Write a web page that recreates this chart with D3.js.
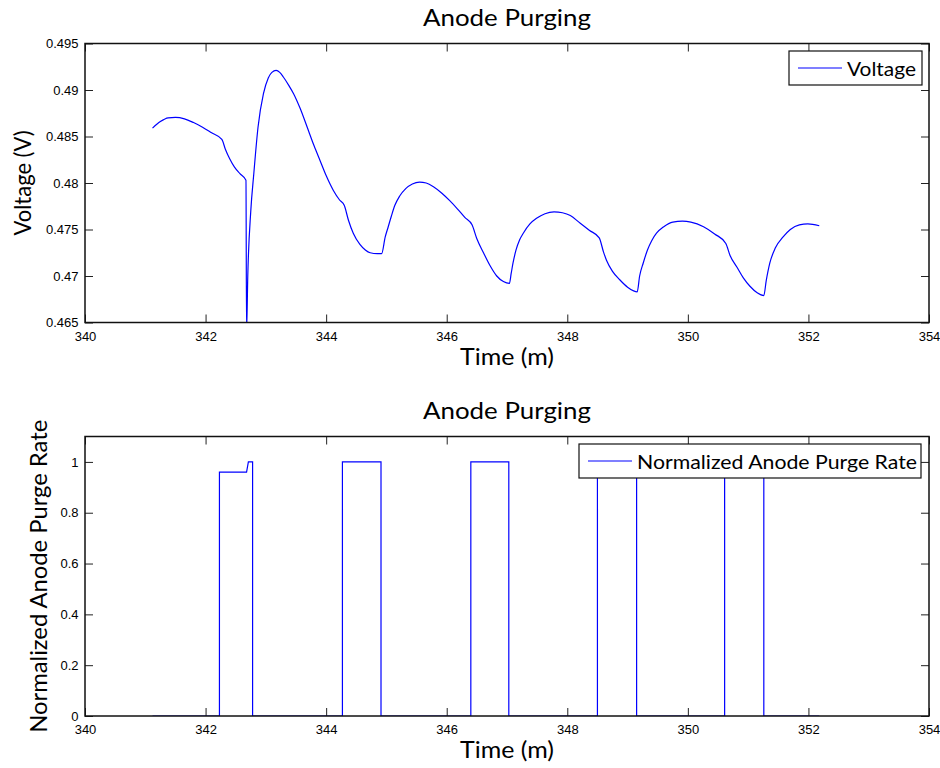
<!DOCTYPE html>
<html><head><meta charset="utf-8">
<script src="https://cdn.jsdelivr.net/npm/d3@7"></script>
<style>body{margin:0;background:#fff}svg{display:block}</style>
</head><body>
<svg id="c" width="940" height="768"></svg>
<script>
// ---------- DATA ----------
const voltTime = [341.12,341.25,341.38,341.50,341.65,341.80,341.95,342.10,342.27,342.33,342.40,342.48,342.57,342.67,342.68,342.70,342.75,342.80,342.87,342.96,343.04,343.10,343.17,343.23,343.29,343.38,343.46,343.57,343.68,343.80,343.90,344.00,344.12,344.22,344.30,344.37,344.45,344.56,344.65,344.73,344.85,344.92,344.98,345.03,345.08,345.14,345.22,345.32,345.43,345.55,345.66,345.78,345.92,346.05,346.18,346.30,346.42,346.50,346.61,346.72,346.83,346.94,347.04,347.07,347.10,347.15,347.21,347.27,347.38,347.49,347.63,347.78,347.92,348.05,348.21,348.37,348.53,348.60,348.65,348.75,348.87,349.00,349.10,349.16,349.20,349.26,349.33,349.40,349.48,349.60,349.75,349.91,350.05,350.26,350.45,350.63,350.70,350.81,350.92,351.03,351.15,351.26,351.30,351.36,351.45,351.58,351.70,351.85,351.99,352.18];
const voltage  = [0.4859,0.4866,0.4870,0.48705,0.4869,0.4865,0.4860,0.4854,0.4847,0.4836,0.4826,0.4817,0.4810,0.4803,0.4640,0.4700,0.4770,0.4810,0.4860,0.4896,0.4913,0.4919,0.4921,0.4919,0.4914,0.4905,0.4896,0.4880,0.4861,0.4840,0.4824,0.4808,0.4792,0.4782,0.4776,0.4760,0.4746,0.4734,0.4728,0.4725,0.4724,0.4724,0.4742,0.4753,0.4764,0.4776,0.4786,0.4794,0.4799,0.4801,0.4800,0.4796,0.4789,0.4781,0.4772,0.4763,0.4755,0.4740,0.4725,0.4711,0.4700,0.4694,0.4692,0.4703,0.4714,0.4728,0.4739,0.4746,0.4756,0.4762,0.4767,0.4769,0.4768,0.4765,0.4757,0.4749,0.4741,0.4726,0.4717,0.4705,0.4696,0.4688,0.4684,0.4683,0.4700,0.4714,0.4728,0.4738,0.4746,0.4753,0.4758,0.4759,0.4758,0.4753,0.4745,0.4735,0.4722,0.4710,0.4698,0.4689,0.4682,0.4679,0.4695,0.4714,0.4730,0.4742,0.4750,0.4755,0.4756,0.4754];

const purgeTime = [341.12,342.23,342.23,342.68,342.71,342.78,342.78,344.27,344.27,344.91,344.91,346.40,346.40,347.03,347.03,348.50,348.50,349.15,349.15,350.61,350.61,351.26,351.26,352.18];
const purgeRate = [0,0,0.96,0.96,1,1,0,0,1,1,0,0,1,1,0,0,1,1,0,0,1,1,0,0];

const xTicks = [340,342,344,346,348,350,352,354];
const xTickLabels = ["340","342","344","346","348","350","352","354"];
const vTicks = [0.465,0.47,0.475,0.48,0.485,0.49,0.495];
const vTickLabels = ["0.465","0.47","0.475","0.48","0.485","0.49","0.495"];
const rTicks = [0,0.2,0.4,0.6,0.8,1];
const rTickLabels = ["0","0.2","0.4","0.6","0.8","1"];

const titles = ["Anode Purging","Anode Purging"];
const xLabel = "Time (m)";
const yLabels = ["Voltage (V)","Normalized Anode Purge Rate"];
const legendLabels = ["Voltage","Normalized Anode Purge Rate"];

// ---------- DRAW ----------
const svg = d3.select("#c");
const LBL_FONT = "Lato, 'Open Sans', sans-serif";
const TICK_FONT = "'Liberation Sans', Arial, sans-serif";
const BLUE = "#0000ff";

function squeeze(sel, w){
  sel.attr("textLength", w).attr("lengthAdjust","spacingAndGlyphs");
  return sel;
}

function panel(opt){
  const {top,bottom,left,right,yDomain,yT,yTL,xs,ys,curve,title,titleY,ylab,ylabX,ylabW,leg,legBox,legW,id} = opt;
  const x = d3.scaleLinear().domain([340,354]).range([left,right]);
  const y = d3.scaleLinear().domain(yDomain).range([bottom,top]);
  const g = svg.append("g");

  g.append("clipPath").attr("id",id).append("rect")
    .attr("x",left).attr("y",top).attr("width",right-left).attr("height",bottom-top);

  const data = xs.map((t,i)=>[t,ys[i]]);
  g.append("path").datum(data)
    .attr("clip-path",`url(#${id})`)
    .attr("fill","none").attr("stroke",BLUE).attr("stroke-width",1.2)
    .attr("d", d3.line().curve(curve).x(d=>x(d[0])).y(d=>y(d[1])));

  const tick = 8;
  const ax = (axisFn, scale, vals, labs, transform, show) => {
    const a = axisFn(scale).tickValues(vals).tickSizeInner(-tick).tickSizeOuter(0)
      .tickFormat((d,i)=> show ? labs[i] : "").tickPadding(show?6:0);
    const gg = g.append("g").attr("transform",transform).call(a);
    gg.select(".domain").remove();
    gg.selectAll("line").attr("stroke","#222").attr("stroke-width",1);
    gg.selectAll("text").attr("font-family",TICK_FONT).attr("font-size",13).attr("fill","#000");
    return gg;
  };
  const bx = ax(d3.axisBottom, x, xTicks, xTickLabels, `translate(0,${bottom})`, true);
  bx.selectAll("text").attr("dy","0.95em");
  ax(d3.axisTop, x, xTicks, xTickLabels, `translate(0,${top})`, false);
  const ly = ax(d3.axisLeft, y, yT, yTL, `translate(${left},0)`, true);
  ly.selectAll("text").attr("dx","-0.5");
  ax(d3.axisRight, y, yT, yTL, `translate(${right},0)`, false);

  g.append("rect").attr("x",left).attr("y",top).attr("width",right-left).attr("height",bottom-top)
    .attr("fill","none").attr("stroke","#111").attr("stroke-width",1.5);

  const t = g.append("text").attr("x",(left+right)/2).attr("y",titleY).attr("text-anchor","middle")
    .attr("font-family",LBL_FONT).attr("font-size",23.5).attr("fill","#000").text(title);
  squeeze(t,168);
  const xl = g.append("text").attr("x",(left+right)/2).attr("y",bottom+42).attr("text-anchor","middle")
    .attr("font-family",LBL_FONT).attr("font-size",23.5).attr("fill","#000").text(xLabel);
  squeeze(xl,94);
  const yl = g.append("text").attr("transform",`translate(${ylabX},${(top+bottom)/2}) rotate(-90)`)
    .attr("text-anchor","middle").attr("font-family",LBL_FONT).attr("font-size",23.5).attr("fill","#000").text(ylab);
  squeeze(yl,ylabW);

  const [bx0,by0,bx1,by1] = legBox;
  g.append("rect").attr("x",bx0).attr("y",by0).attr("width",bx1-bx0).attr("height",by1-by0)
    .attr("fill","#fff").attr("stroke","#111").attr("stroke-width",1.2);
  const ly0 = (by0+by1)/2;
  g.append("line").attr("x1",bx0+9).attr("x2",bx0+53).attr("y1",ly0).attr("y2",ly0)
    .attr("stroke",BLUE).attr("stroke-width",1.2);
  const lt = g.append("text").attr("x",bx0+58).attr("y",ly0+7.5).attr("font-family",LBL_FONT)
    .attr("font-size",20).attr("fill","#000").text(leg);
  squeeze(lt,legW);
}

panel({id:"c1",top:43.5,bottom:322.5,left:85,right:929,yDomain:[0.465,0.495],yT:vTicks,yTL:vTickLabels,
  xs:voltTime,ys:voltage,curve:d3.curveMonotoneX,title:titles[0],titleY:26,ylab:yLabels[0],ylabX:31,ylabW:105,
  leg:legendLabels[0],legBox:[789,51,922,85],legW:69});
panel({id:"c2",top:436.5,bottom:716,left:85,right:929,yDomain:[0,1.1],yT:rTicks,yTL:rTickLabels,
  xs:purgeTime,ys:purgeRate,curve:d3.curveLinear,title:titles[1],titleY:419,ylab:yLabels[1],ylabX:47,ylabW:313,
  leg:legendLabels[1],legBox:[579,444,921,478],legW:280});
</script>
</body></html>
